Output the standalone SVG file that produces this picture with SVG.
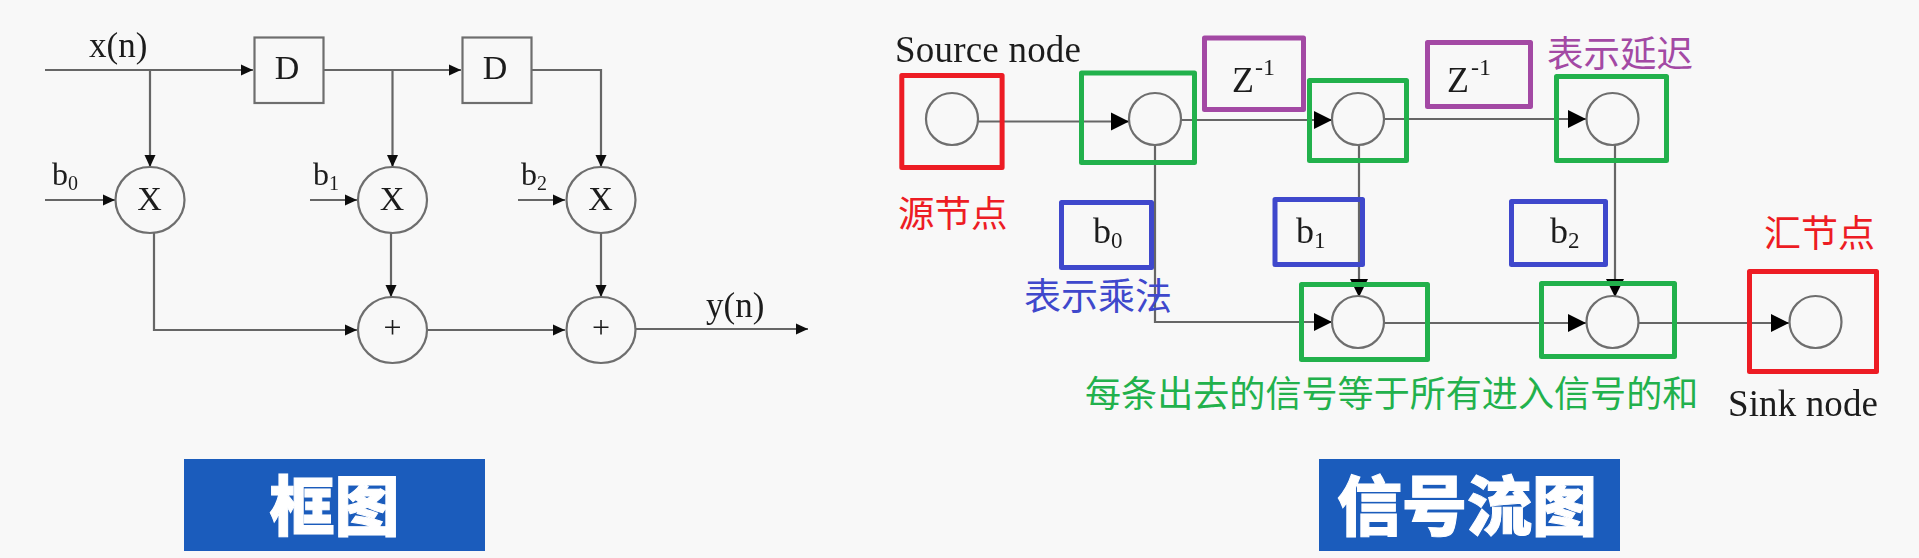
<svg xmlns="http://www.w3.org/2000/svg" width="1919" height="558" viewBox="0 0 1919 558">
<style>
.ln{fill:none;stroke:#666;stroke-width:2.200}
.sm{marker-end:url(#a)}
.lg{marker-end:url(#b)}
.sh{fill:none;stroke:#6e6e6e;stroke-width:2.200;filter:url(#s)}
.t{font-family:"Liberation Serif","Times New Roman",serif;fill:#1c1c1c;filter:url(#s)}
.cjk{font-family:"Noto Sans CJK SC","Noto Sans",sans-serif}
.box{fill:none;stroke-width:5;stroke-linejoin:round}
.r{stroke:#ed1c24}.g{stroke:#22b14c}.p{stroke:#a349a4}.u{stroke:#3f48cc}
.tag{fill:#1b5cbc}
.tt{font-family:"Noto Sans CJK SC","Noto Sans",sans-serif;font-weight:900;font-size:65px;fill:#fff;stroke:#fff;stroke-width:1}
</style>
<defs>
<filter id="s" x="-5%" y="-5%" width="110%" height="110%"><feGaussianBlur stdDeviation="0.500"/></filter>
<marker id="a" markerUnits="userSpaceOnUse" markerWidth="13" markerHeight="13" refX="12" refY="6.500" orient="auto"><path d="M0 1L12 6.500L0 12Z" fill="#111"/></marker>
<marker id="b" markerUnits="userSpaceOnUse" markerWidth="20" markerHeight="20" refX="18" refY="10" orient="auto"><path d="M0 1L18 10L0 19Z" fill="#000"/></marker>
</defs>
<rect width="1919" height="558" fill="#f8f8f8"/>
<g id="connectors" filter="url(#s)">
<path class="ln sm" d="M45 70H253"/>
<path class="ln sm" d="M150 70V167"/>
<path class="ln sm" d="M324 70H461"/>
<path class="ln sm" d="M392.500 70V167"/>
<path class="ln sm" d="M532 70H601V167"/>
<path class="ln sm" d="M45 200H115"/>
<path class="ln sm" d="M310 200H357"/>
<path class="ln sm" d="M518 200H565"/>
<path class="ln sm" d="M154 233V330H357"/>
<path class="ln sm" d="M391 233V297"/>
<path class="ln sm" d="M601 233V297"/>
<path class="ln sm" d="M428 330H565"/>
<path class="ln sm" d="M636 329H808"/>
<path class="ln lg" d="M978 121.500H1129"/>
<path class="ln lg" d="M1181 120H1332"/>
<path class="ln lg" d="M1384 119H1586"/>
<path class="ln lg" d="M1155 145V322H1332"/>
<path class="ln lg" d="M1359 145V297"/>
<path class="ln lg" d="M1615 145V297"/>
<path class="ln lg" d="M1384 323H1586"/>
<path class="ln lg" d="M1639 323H1789"/>
</g>
<g id="block-diagram">
<text class="t" x="89" y="57" font-size="35">x(n)</text>
<text class="t" x="706" y="317" font-size="35">y(n)</text>
<g id="delay-1"><rect class="sh" x="254.500" y="37.500" width="69" height="65.500"/><text class="t" x="287" y="79" font-size="34" text-anchor="middle">D</text></g>
<g id="delay-2"><rect class="sh" x="462.500" y="37.500" width="69" height="65.500"/><text class="t" x="495" y="79" font-size="34" text-anchor="middle">D</text></g>
<g id="mul-0"><ellipse class="sh" cx="150" cy="200" rx="34.500" ry="33"/><text class="t" x="149.500" y="209.500" font-size="34" text-anchor="middle">X</text><text class="t" x="52" y="185" font-size="32">b<tspan font-size="20" dy="5">0</tspan></text></g>
<g id="mul-1"><ellipse class="sh" cx="392.500" cy="200" rx="34.500" ry="33"/><text class="t" x="392" y="209.500" font-size="34" text-anchor="middle">X</text><text class="t" x="313" y="185" font-size="32">b<tspan font-size="20" dy="5">1</tspan></text></g>
<g id="mul-2"><ellipse class="sh" cx="601" cy="200" rx="34.500" ry="33"/><text class="t" x="600.500" y="209.500" font-size="34" text-anchor="middle">X</text><text class="t" x="521" y="185" font-size="32">b<tspan font-size="20" dy="5">2</tspan></text></g>
<g id="add-1"><ellipse class="sh" cx="392.500" cy="330" rx="34.500" ry="33"/><text class="t" x="392.500" y="338" font-size="32" text-anchor="middle">+</text></g>
<g id="add-2"><ellipse class="sh" cx="601" cy="330" rx="34.500" ry="33"/><text class="t" x="601" y="338" font-size="32" text-anchor="middle">+</text></g>
</g>
<g id="source"><rect class="box r" x="901.800" y="75.500" width="100.300" height="92"/><circle class="sh" cx="952" cy="119" r="26"/><text class="t" x="895" y="62" font-size="37" textLength="186">Source node</text><text class="cjk" x="898" y="227" fill="#ed1c24" font-size="36.500">源节点</text></g>
<g id="node-1"><rect class="box g" x="1081.500" y="73" width="113" height="89.500"/><circle class="sh" cx="1155" cy="119" r="26"/></g>
<g id="node-2"><rect class="box g" x="1309.500" y="80.500" width="97" height="80"/><circle class="sh" cx="1358" cy="119" r="26"/></g>
<g id="node-3"><rect class="box g" x="1556.500" y="76.500" width="110" height="84"/><circle class="sh" cx="1612.500" cy="119" r="26"/></g>
<g id="node-4"><rect class="box g" x="1301.500" y="284.500" width="126" height="75"/><circle class="sh" cx="1358" cy="322" r="26"/></g>
<g id="node-5"><rect class="box g" x="1541.500" y="283.500" width="133" height="73"/><circle class="sh" cx="1612.500" cy="322" r="26"/></g>
<g id="sink"><rect class="box r" x="1749.500" y="271.500" width="127" height="100"/><circle class="sh" cx="1815.500" cy="322" r="26"/><text class="cjk" x="1764" y="247" fill="#ed1c24" font-size="37">汇节点</text><text class="t" x="1728" y="416" font-size="37" textLength="150">Sink node</text></g>
<g id="z1"><rect class="box p" x="1204.500" y="38" width="99" height="71.500"/><text class="t" x="1232" y="92" font-size="36">Z</text><text class="t" x="1255" y="75" font-size="24">-1</text></g>
<g id="z2"><rect class="box p" x="1427.500" y="42.500" width="103" height="64"/><text class="t" x="1447" y="92" font-size="36">Z</text><text class="t" x="1471" y="75" font-size="24">-1</text><text class="cjk" x="1547" y="67" fill="#a349a4" font-size="36.500">表示延迟</text></g>
<g id="b0"><rect class="box u" x="1061.500" y="202.500" width="90" height="65"/><text class="t" x="1093" y="243" font-size="36">b<tspan font-size="23" dy="5">0</tspan></text><text class="cjk" x="1024" y="310" fill="#3f48cc" font-size="37">表示乘法</text></g>
<g id="b1"><rect class="box u" x="1275" y="199.500" width="87.500" height="65"/><text class="t" x="1296" y="243" font-size="36">b<tspan font-size="23" dy="5">1</tspan></text></g>
<g id="b2"><rect class="box u" x="1511.500" y="201.500" width="94" height="63"/><text class="t" x="1550" y="243" font-size="36">b<tspan font-size="23" dy="5">2</tspan></text></g>
<text class="cjk" x="1085" y="407" fill="#22b14c" font-size="36.100">每条出去的信号等于所有进入信号的和</text>
<g id="caption-1"><rect class="tag" x="184" y="459" width="301" height="92"/><text class="tt" x="334.500" y="530" text-anchor="middle">框图</text></g>
<g id="caption-2"><rect class="tag" x="1319" y="459" width="301" height="92"/><text class="tt" x="1467" y="530" text-anchor="middle">信号流图</text></g>
</svg>
